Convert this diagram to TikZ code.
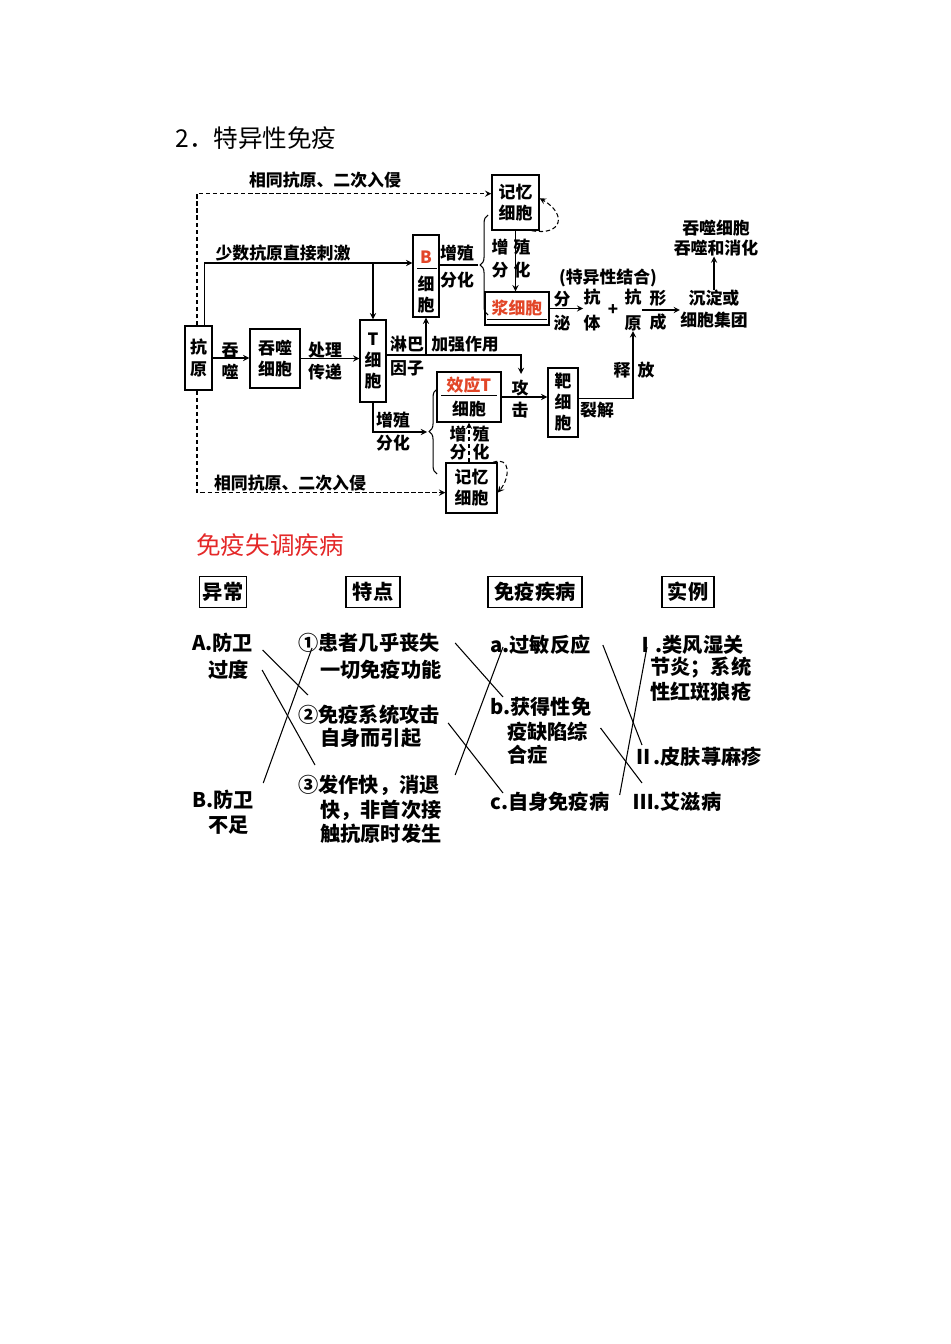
\documentclass[tikz,border=0pt]{standalone}
\usepackage{fontspec}
\setmainfont{Noto Sans CJK SC}
\usetikzlibrary{calc,decorations.pathreplacing}
\definecolor{cellRed}{RGB}{226,70,40}
\definecolor{titleRed}{RGB}{228,40,40}

\begin{document}
\begin{tikzpicture}
[arrowDecorate/.style={->,>=stealth,line width=0.6pt},%
  dashDecorate/.style={->,>=stealth,line width=0.6pt,dash pattern=on 2.5pt off 1.5pt},%
  lineDecorate/.style={line width=0.6pt},%
  braceDecorate/.style={decorate,decoration={brace,amplitude=4.5pt},line width=0.6pt},%
  boxDecorate/.style={draw,line width=0.8pt,inner sep=0pt,align=center,font=\fontsize{9.6}{12}\selectfont\bfseries},%
  labelDecorate/.style={inner sep=0pt,align=center,font=\fontsize{9.6}{11.5}\selectfont\bfseries},%
  headDecorate/.style={draw,line width=0.8pt,inner sep=0pt,minimum height=0.62cm,font=\fontsize{11.5}{13}\selectfont\bfseries},%
  itemDecorate/.style={inner sep=0pt,anchor=west,font=\fontsize{11.5}{13}\selectfont\bfseries},%
  x=0.02cm,y=0.02cm]
\fill[white] (0,0) rectangle (950,-1344);
\useasboundingbox (0,0) rectangle (950,-1344);

%% titles
\node (title) at (175,-138) [anchor=west,inner sep=0pt,font=\fontsize{14}{16}\selectfont] {2．特异性免疫};
\node (disorder) at (196,-545) [anchor=west,inner sep=0pt,text=titleRed,font=\fontsize{14}{16}\selectfont] {免疫失调疾病};

%% cells
\foreach \nodename/\x/\y/\w/\h/\txt in {
  ky/198.5/358/0.54/1.28/{抗\\[1pt]原},
  ph/275/358.5/1.0/1.18/{吞噬\\细胞},
  tc/373/361/0.52/1.64/{T\\细\\胞},
  bc/426/276/0.52/1.64/{\rule{0pt}{14pt}\textcolor{cellRed}{B}\\[3pt]细\\胞},
  bm/515.5/202.5/0.94/1.1/{记忆\\细胞},
  pl/517/308.5/1.28/0.66/{\textcolor{cellRed}{浆细胞}},
  et/469/397/1.28/1.0/{\textcolor{cellRed}{效应T}\\[2pt]细胞},
  tg/563/402.5/0.6/1.38/{靶\\细\\胞},
  tm/471.5/488/1.02/1.0/{记忆\\细胞}}
{
  \node (\nodename) at (\x,-\y) [boxDecorate,minimum width=\w cm,minimum height=\h cm] {\txt};
}
\draw[lineDecorate] ($(bc.north west)+(5,-34)$) -- ($(bc.north east)+(-3,-34)$);
\draw[lineDecorate] ($(et.north west)+(5,-24)$) -- ($(et.north east)+(-5,-24)$);
\draw[lineDecorate] ($(pl.north west)+(3,-28)$) -- ($(pl.north east)+(-3,-28)$);

%% labels
\foreach \nodename/\x/\y/\txt in {
  lblsame1/325/180/{相同抗原、二次入侵}, lblsame2/290/483/{相同抗原、二次入侵},
  lblfew/283/253/{少数抗原直接刺激},
  lbltun/230/350/吞, lblshi/230/372/噬, lblchu/325/350/处理, lblchuan/325/372/传递,
  lbllin/407/344/淋巴, lblyin/407/368/因子, lbljia/465/344/加强作用,
  lblbzz/457/253/增殖, lblbfh/457/280/分化, lbltzz/393/420/增殖, lbltfh/393/443/分化,
  lblmz1/500/247/增, lblmz2/522/247/殖, lblmf1/500/270/分, lblmf2/522/270/化,
  lblnz1/458/434/增, lblnz2/481/434/殖, lblnf1/458/452/分, lblnf2/481/452/化,
  lblfen/562/299/分, lblmi/562/323/泌, lblbind/608/278/{(特异性结合)},
  ab/592/310/{抗\\[3pt]体}, lblplus/613/310/+, ag/633/310/{抗\\[3pt]原},
  lblxing/658/298/形, lblcheng/658/322/成,
  ppt/714/309/{沉淀或\\[1pt]细胞集团}, digest/716/238/{吞噬细胞\\吞噬和消化},
  lblgong/520/388/攻, lblji/520/410/击, lblrel/622/370/释, lblfang/646/370/放,
  lbllie/597/410/裂解}
{
  \node (\nodename) at (\x,-\y) [labelDecorate] {\txt};
}

%% edges or lines
\coordinate (split) at (373,-263);
\coordinate (lymph) at (426,-355);
\coordinate (attack) at (521,-374);
\coordinate (btip) at (478,-265);
\coordinate (bbraceLow) at (488,-315);
\coordinate (bbraceHigh) at (488,-215);
\coordinate (ttip) at (427,-432);
\coordinate (tbraceLow) at (437,-474);
\coordinate (tbraceHigh) at (437,-389);

\draw[dashDecorate] ($(ky.north)+(-1.5,0)$) |- (bm.160);
\draw[dashDecorate] ($(ky.south)+(-1.5,0)$) |- (tm.190);
\draw[arrowDecorate] ($(ky.north)+(6,0)$) |- (split -| bc.west);
\draw[arrowDecorate] (split) -- (tc.north);
\draw[arrowDecorate] (ky.east) -- (ky.east -| ph.west);
\draw[arrowDecorate] (ph.east) -- (ph.east -| tc.west);
\draw[arrowDecorate] (tc.east |- lymph) -| (attack);
\draw[arrowDecorate] (lymph) -- (lymph |- bc.south);
\draw[lineDecorate] (bc.east |- btip) -- (btip);
\draw[braceDecorate] (bbraceLow) -- (bbraceHigh);
\draw[arrowDecorate] (bm.south) -- (bm.south |- pl.north);
\draw[dashDecorate] (bm.-60) to[out=-10,in=-30,looseness=2.4] (bm.10);
\draw[arrowDecorate] (pl.east) -- (pl.east -| ab.west);
\draw[arrowDecorate] (ag.east) -- (ag.east -| ppt.west);
\draw[arrowDecorate] (ppt.north) -- (ppt.north |- digest.south);
\draw[arrowDecorate] (tc.south) |- (ttip);
\draw[braceDecorate] (tbraceLow) -- (tbraceHigh);
\draw[arrowDecorate] (et.east) -- (et.east -| tg.west);
\draw[arrowDecorate] ($(tg.east)+(0,4)$) -| (ag.south);
\draw[dashDecorate] (tm.north -| et.south) -- (et.south);
\draw[dashDecorate] (tm.50) to[out=20,in=50,looseness=1.6] (tm.-10);

%% disorder table
\foreach \nodename/\x/\w/\txt in {h1/223/0.94/异常, h2/373/1.08/特点, h3/535/1.88/免疫疾病, h4/688/1.04/实例}
{
  \node (\nodename) at (\x,-592) [headDecorate,minimum width=\w cm] {\txt};
}
\foreach \nodename/\x/\y/\txt in {
  A1/192/643/{A.防卫}, A2/208/670/{过度}, B1/192/800/{B.防卫}, B2/208/825/{不足},
  o1/298/643/{①患者几乎丧失}, o1b/320/670/{一切免疫功能},
  o2/298/715/{②免疫系统攻击}, o2b/320/738/{自身而引起},
  o3/298/785/{③发作快，消退}, o3b/320/810/{快，非首次接}, o3c/320/834/{触抗原时发生},
  da/490/645/{a.过敏反应}, db/490/707/{b.获得性免}, db2/507/732/{疫缺陷综}, db3/507/755/{合症},
  dc/490/802/{c.自身免疫病},
  e1/635/645/{Ⅰ.类风湿关}, e1b/650/668/{节炎；系统}, e1c/650/692/{性红斑狼疮},
  e2/633/757/{Ⅱ.皮肤荨麻疹}, e3/633/802/{Ⅲ.艾滋病}}
{
  \node (\nodename) at (\x,-\y) [itemDecorate] {\txt};
}
\draw[lineDecorate] ($(A1.east)+(9,-7)$) -- ($(o2.west)+(10,20)$);
\draw[lineDecorate] ($(A2.east)+(13,0)$) -- ($(o3.west)+(17,20)$);
\draw[lineDecorate] ($(B1.east)+(9,17)$) -- ($(o1.west)+(14,-5)$);
\draw[lineDecorate] ($(o1.east)+(15,0)$) -- ($(db.west)+(13,10)$);
\draw[lineDecorate] ($(o2.east)+(8,-8)$) -- ($(dc.west)+(13,9)$);
\draw[lineDecorate] ($(o3.east)+(15,10)$) -- ($(da.west)+(13,-2)$);
\draw[lineDecorate] ($(da.east)+(12,0)$) -- ($(e2.west)+(9,12)$);
\draw[lineDecorate] ($(db2.east)+(12,4)$) -- ($(e3.west)+(9,19)$);
\draw[lineDecorate] ($(dc.east)+(10,7)$) -- ($(e1.west)+(12,-2)$);
\end{tikzpicture}
\end{document}
